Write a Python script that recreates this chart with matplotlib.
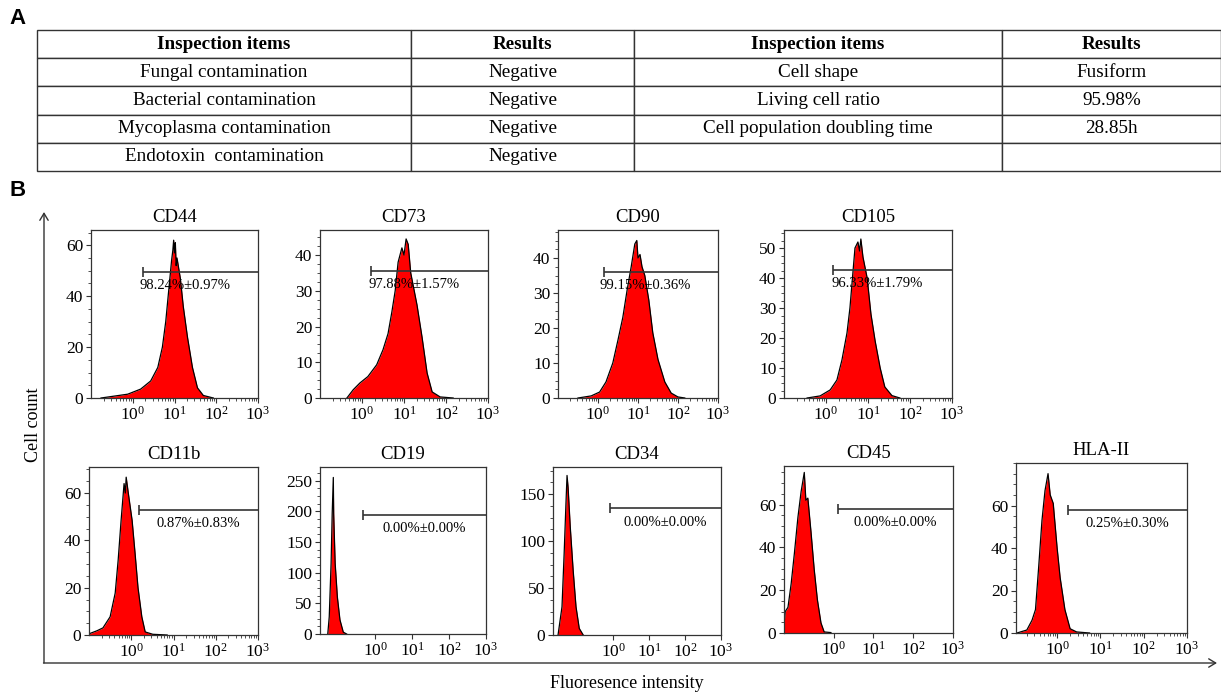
import numpy as np
import matplotlib
matplotlib.use('Agg')
import matplotlib.pyplot as plt
from matplotlib.patches import FancyArrowPatch

plt.rcParams['font.family'] = ['Liberation Serif', 'DejaVu Serif']
plt.rcParams['mathtext.fontset'] = 'custom'
plt.rcParams['mathtext.rm'] = 'Liberation Serif'
plt.rcParams['mathtext.it'] = 'Liberation Serif:italic'
plt.rcParams['mathtext.bf'] = 'Liberation Serif:bold'

# ---- Panel A table ----
table_header = ['Inspection items', 'Results', 'Inspection items', 'Results']
items_left = ['Fungal contamination', 'Bacterial contamination',
              'Mycoplasma contamination', 'Endotoxin  contamination']
results_left = ['Negative', 'Negative', 'Negative', 'Negative']
items_right = ['Cell shape', 'Living cell ratio', 'Cell population doubling time', '']
results_right = ['Fusiform', '95.98%', '28.85h', '']

# ---- Panel B histograms (log10 fluorescence, cell count) ----
markers = ['CD44', 'CD73', 'CD90', 'CD105', 'CD11b', 'CD19', 'CD34', 'CD45', 'HLA-II']

cd44_logx = [-0.76, -0.12, 0.19, 0.43, 0.6, 0.71, 0.79, 0.86, 0.93, 0.96, 0.98, 1.0, 1.02,
             1.04, 1.06, 1.14, 1.21, 1.31, 1.43, 1.55, 1.69, 1.93]
cd44_count = [0, 1.5, 3.5, 6.7, 12, 20, 30, 42, 54, 58, 62, 57, 61, 52, 55, 47, 36, 24, 12, 4, 1, 0]

cd73_logx = [-0.36, -0.21, -0.05, 0.14, 0.35, 0.5, 0.62, 0.71, 0.79, 0.86, 0.95, 1.0, 1.05,
             1.1, 1.16, 1.21, 1.31, 1.43, 1.55, 1.67, 1.86, 2.17]
cd73_count = [0, 2.3, 4.2, 6, 9.3, 13.5, 18, 24, 30, 38, 42, 40, 44.5, 43, 35, 32, 26, 17, 7,
              1.7, 0.3, 0]

cd90_logx = [-0.5, -0.17, 0.04, 0.2, 0.37, 0.5, 0.62, 0.73, 0.83, 0.92, 0.97, 1.0, 1.05, 1.1,
             1.17, 1.27, 1.37, 1.5, 1.67, 1.83, 2.0, 2.17]
cd90_count = [0, 0.6, 1.7, 4.6, 10, 16.6, 23, 31, 37.5, 44, 45, 40, 41, 37.5, 35, 28, 18.6,
              11, 4.6, 1.4, 0.3, 0]

cd105_logx = [-0.45, -0.14, 0.1, 0.26, 0.38, 0.5, 0.57, 0.64, 0.69, 0.76, 0.8, 0.83, 0.88,
              0.98, 1.07, 1.17, 1.29, 1.4, 1.57, 1.76]
cd105_count = [0, 0.7, 2.7, 6, 12.7, 21.7, 30, 41.7, 50, 52, 49, 53, 47, 40, 28, 19, 10,
               3.7, 0.8, 0]

cd11b_logx = [-1.0, -0.81, -0.67, -0.5, -0.38, -0.31, -0.24, -0.17, -0.14, -0.12, -0.07,
              0.02, 0.09, 0.16, 0.25, 0.33, 0.51, 0.85]
cd11b_count = [0.5, 1.8, 3, 7.7, 17.7, 31.6, 48.5, 64, 60, 66.7, 60, 48.5, 34.6, 20, 7.7,
               1.3, 0.3, 0]

cd19_logx = [-1.28, -1.24, -1.19, -1.16, -1.13, -1.12, -1.08, -1.02, -0.95, -0.86, -0.77]
cd19_count = [0, 28, 115, 196, 255, 196, 115, 60, 23, 3, 0]

cd34_logx = [-1.53, -1.42, -1.36, -1.31, -1.28, -1.25, -1.19, -1.11, -1.03, -0.94, -0.83]
cd34_count = [0, 30, 87, 140, 170, 157, 115, 69, 30, 7, 0]

cd45_logx = [-1.25, -1.24, -1.22, -1.15, -1.07, -0.99, -0.9, -0.82, -0.74, -0.7, -0.65,
             -0.57, -0.49, -0.41, -0.32, -0.24, -0.07]
cd45_count = [0, 6, 10, 12, 23, 37, 54, 66, 75, 62, 63, 47, 29.6, 15.5, 4.7, 0.5, 0.2]

hla_logx = [-0.93, -0.7, -0.58, -0.5, -0.43, -0.35, -0.28, -0.21, -0.16, -0.09, 0.0, 0.07,
            0.18, 0.3, 0.45, 0.75]
hla_count = [0, 1.4, 6, 11, 30, 53, 67, 75, 65, 61, 40, 26, 11, 2, 0.5, 0]

hist_logx = [cd44_logx, cd73_logx, cd90_logx, cd105_logx, cd11b_logx,
             cd19_logx, cd34_logx, cd45_logx, hla_logx]
hist_count = [cd44_count, cd73_count, cd90_count, cd105_count, cd11b_count,
              cd19_count, cd34_count, cd45_count, hla_count]

# positive gates: start (fluorescence), level (count), percentage text
gate_start = [1.8, 1.6, 1.4, 1.5, 1.55, 0.47, 0.8, 1.3, 1.8]
gate_level = [49.5, 35.5, 36, 42.7, 53, 194, 135, 58, 58]
gate_text = ['98.24%±0.97%', '97.88%±1.57%', '99.15%±0.36%', '96.33%±1.79%',
             '0.87%±0.83%', '0.00%±0.00%', '0.00%±0.00%', '0.00%±0.00%', '0.25%±0.30%']

# axis scales
y_max = [66, 47, 48, 56, 71, 272, 179, 78, 80]
y_step = [20, 10, 10, 10, 20, 50, 50, 20, 20]
x_min_log = [-1, -1, -1, -1, -1, -1.49, -1.67, -1.25, -0.95]

# axes boxes in pixels: left, top, right, bottom
W, H = 1221, 693
boxes = [(91, 230, 258, 398), (320, 230, 488, 398), (558, 230, 718, 398), (784, 230, 952, 398),
         (89, 467, 258, 635), (320, 467, 486, 634), (553, 467, 721, 635),
         (784, 466, 953, 633), (1016, 463, 1187, 633)]

fig = plt.figure(figsize=(W / 100, H / 100), dpi=100)


def px_axes(l, t, r, b):
    return fig.add_axes([l / W, 1 - b / H, (r - l) / W, (b - t) / H])


# table
tax = px_axes(37, 30, 1221, 171)
tax.axis('off')
cells = [list(r) for r in zip(items_left, results_left, items_right, results_right)]
tbl = tax.table(cellText=cells, colLabels=table_header, bbox=[0, 0, 1, 1],
                colWidths=[374, 223, 368, 219], cellLoc='center')
tbl.auto_set_font_size(False)
for (r, c), cell in tbl.get_celld().items():
    cell.set_edgecolor('#333333')
    cell.set_linewidth(1.0)
    cell.get_text().set_fontsize(13.8)
    if r == 0:
        cell.get_text().set_fontweight('bold')

# histograms
for i, name in enumerate(markers):
    ax = px_axes(*boxes[i])
    x = 10 ** np.array(hist_logx[i])
    y = np.array(hist_count[i])
    ax.fill_between(x, y, color='#ff0000', lw=0)
    ax.plot(x, y, color='black', lw=0.9)
    ax.set_xscale('log')
    ax.set_xlim(10 ** x_min_log[i], 1000)
    ax.set_ylim(0, y_max[i])
    ax.set_xticks([1, 10, 100, 1000])
    ax.set_xticklabels([r'$10^{0}$', r'$10^{1}$', r'$10^{2}$', r'$10^{3}$'])
    ax.set_yticks(np.arange(0, y_max[i], y_step[i]))
    ax.yaxis.set_minor_locator(matplotlib.ticker.MultipleLocator(y_step[i] / 4))
    ax.tick_params(labelsize=12.5, length=3.5, width=0.8, color='#333333', pad=2)
    ax.tick_params(which='minor', length=2, width=0.6, color='#333333')
    for s in ax.spines.values():
        s.set_color('#333333')
        s.set_linewidth(0.9)
    ax.set_title(name, fontsize=13.5, pad=6)

    # gate line
    ax.hlines(gate_level[i], gate_start[i], 1000, color='#333333', lw=1.2)
    ax.plot([gate_start[i]], [gate_level[i]], marker='|', ms=7, mew=1.2, color='#333333')
    mid = 10 ** ((np.log10(gate_start[i]) + 3) / 2)
    dx = -11 if i < 4 else 0
    ax.annotate(gate_text[i], (mid, gate_level[i]), xytext=(dx, -10),
                textcoords='offset points', ha='center', va='center', fontsize=10.5)

# frame with arrows for panel B
fig.add_artist(FancyArrowPatch((44 / W, 1 - 663 / H), (44 / W, 1 - 212 / H),
                               transform=fig.transFigure, arrowstyle='->,head_length=5,head_width=3',
                               lw=1.0, color='#333333', shrinkA=0, shrinkB=0))
fig.add_artist(FancyArrowPatch((43.5 / W, 1 - 663 / H), (1217 / W, 1 - 663 / H),
                               transform=fig.transFigure, arrowstyle='->,head_length=5,head_width=3',
                               lw=1.0, color='#333333', shrinkA=0, shrinkB=0))

fig.text(33 / W, 1 - 425 / H, 'Cell count', rotation=90, ha='center', va='center', fontsize=13)
fig.text(627 / W, 1 - 683 / H, 'Fluoresence intensity', ha='center', va='center', fontsize=13)

fig.text(18 / W, 1 - 18 / H, 'A', ha='center', va='center', fontsize=16, fontweight='bold',
         family='Liberation Sans')
fig.text(18 / W, 1 - 190 / H, 'B', ha='center', va='center', fontsize=16, fontweight='bold',
         family='Liberation Sans')

fig.savefig('out.png', dpi=100)
